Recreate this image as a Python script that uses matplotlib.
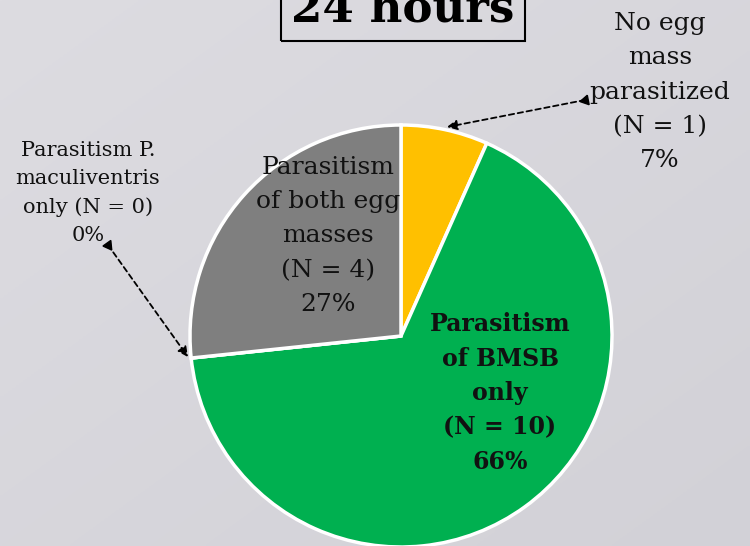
import matplotlib.pyplot as plt
import numpy as np

# data
groups = ["No egg mass parasitized", "Parasitism of BMSB only",
          "Parasitism P. maculiventris only", "Parasitism of both egg masses"]
counts = [1, 10, 0, 4]
pcts = ["7%", "66%", "0%", "27%"]
colors = ["#FFC000", "#00B050", "#A5A5A5", "#7F7F7F"]

W, H = 750, 546


def py(y):
    # pixel-from-top to data y
    return H - y


fig = plt.figure(figsize=(7.5, 5.46), dpi=100)
ax = fig.add_axes([0, 0, 1, 1])

# light grey gradient background
gx, gy = np.meshgrid(np.linspace(0, 1, 200), np.linspace(0, 1, 200))
g = 0.5 * gx + 0.5 * gy
c0 = np.array([221, 220, 225]) / 255
c1 = np.array([210, 209, 215]) / 255
img = c0 + (c1 - c0) * g[..., None]
ax.imshow(img, extent=[0, W, 0, H], origin="upper", zorder=0, aspect="auto")

ax.pie(counts, colors=colors, startangle=90, counterclock=False,
       center=(401, py(336)), radius=211,
       wedgeprops=dict(edgecolor="white", linewidth=2.5), frame=True)

ax.set_xlim(0, W)
ax.set_ylim(0, H)
ax.set_aspect("auto")
ax.axis("off")

serif = "DejaVu Serif"

# title (clipped at top like the original slide)
ax.text(403, py(22), "24 hours", ha="center", va="baseline", fontsize=32.5,
        fontweight="bold", family=serif, color="black",
        bbox=dict(boxstyle="square,pad=0.22", fc="none", ec="black", lw=1.5))

# slice labels
ax.text(660, py(92), "No egg\nmass\nparasitized\n(N = %d)\n%s" % (counts[0], pcts[0]),
        ha="center", va="center", fontsize=18, family=serif, color="#111111",
        linespacing=1.63)
ax.text(500, py(393), "Parasitism\nof BMSB\nonly\n(N = %d)\n%s" % (counts[1], pcts[1]),
        ha="center", va="center", fontsize=17, fontweight="bold", family=serif,
        color="#111111", linespacing=1.55)
ax.text(88, py(193), "Parasitism P.\nmaculiventris\nonly (N = %d)\n%s" % (counts[2], pcts[2]),
        ha="center", va="center", fontsize=15, family=serif, color="#111111",
        linespacing=1.6)
ax.text(328, py(236), "Parasitism\nof both egg\nmasses\n(N = %d)\n%s" % (counts[3], pcts[3]),
        ha="center", va="center", fontsize=18, family=serif, color="#111111",
        linespacing=1.63)

# dashed leader arrows
for (x0, y0), (x1, y1) in [((585, 100), (447, 127)), ((108, 245), (188, 357))]:
    ax.annotate("", xy=(x1, py(y1)), xytext=(x0, py(y0)),
                arrowprops=dict(arrowstyle="-|>,head_length=0.6,head_width=0.3",
                                linestyle=(0, (3, 2)), color="black", lw=1.3,
                                shrinkA=0, shrinkB=0))
    ang = np.degrees(np.arctan2(py(y1) - py(y0), x1 - x0))
    ax.plot(x0, py(y0), marker=(3, 0, ang - 90), markersize=8, color="black")

fig.savefig("out.png", dpi=100)
